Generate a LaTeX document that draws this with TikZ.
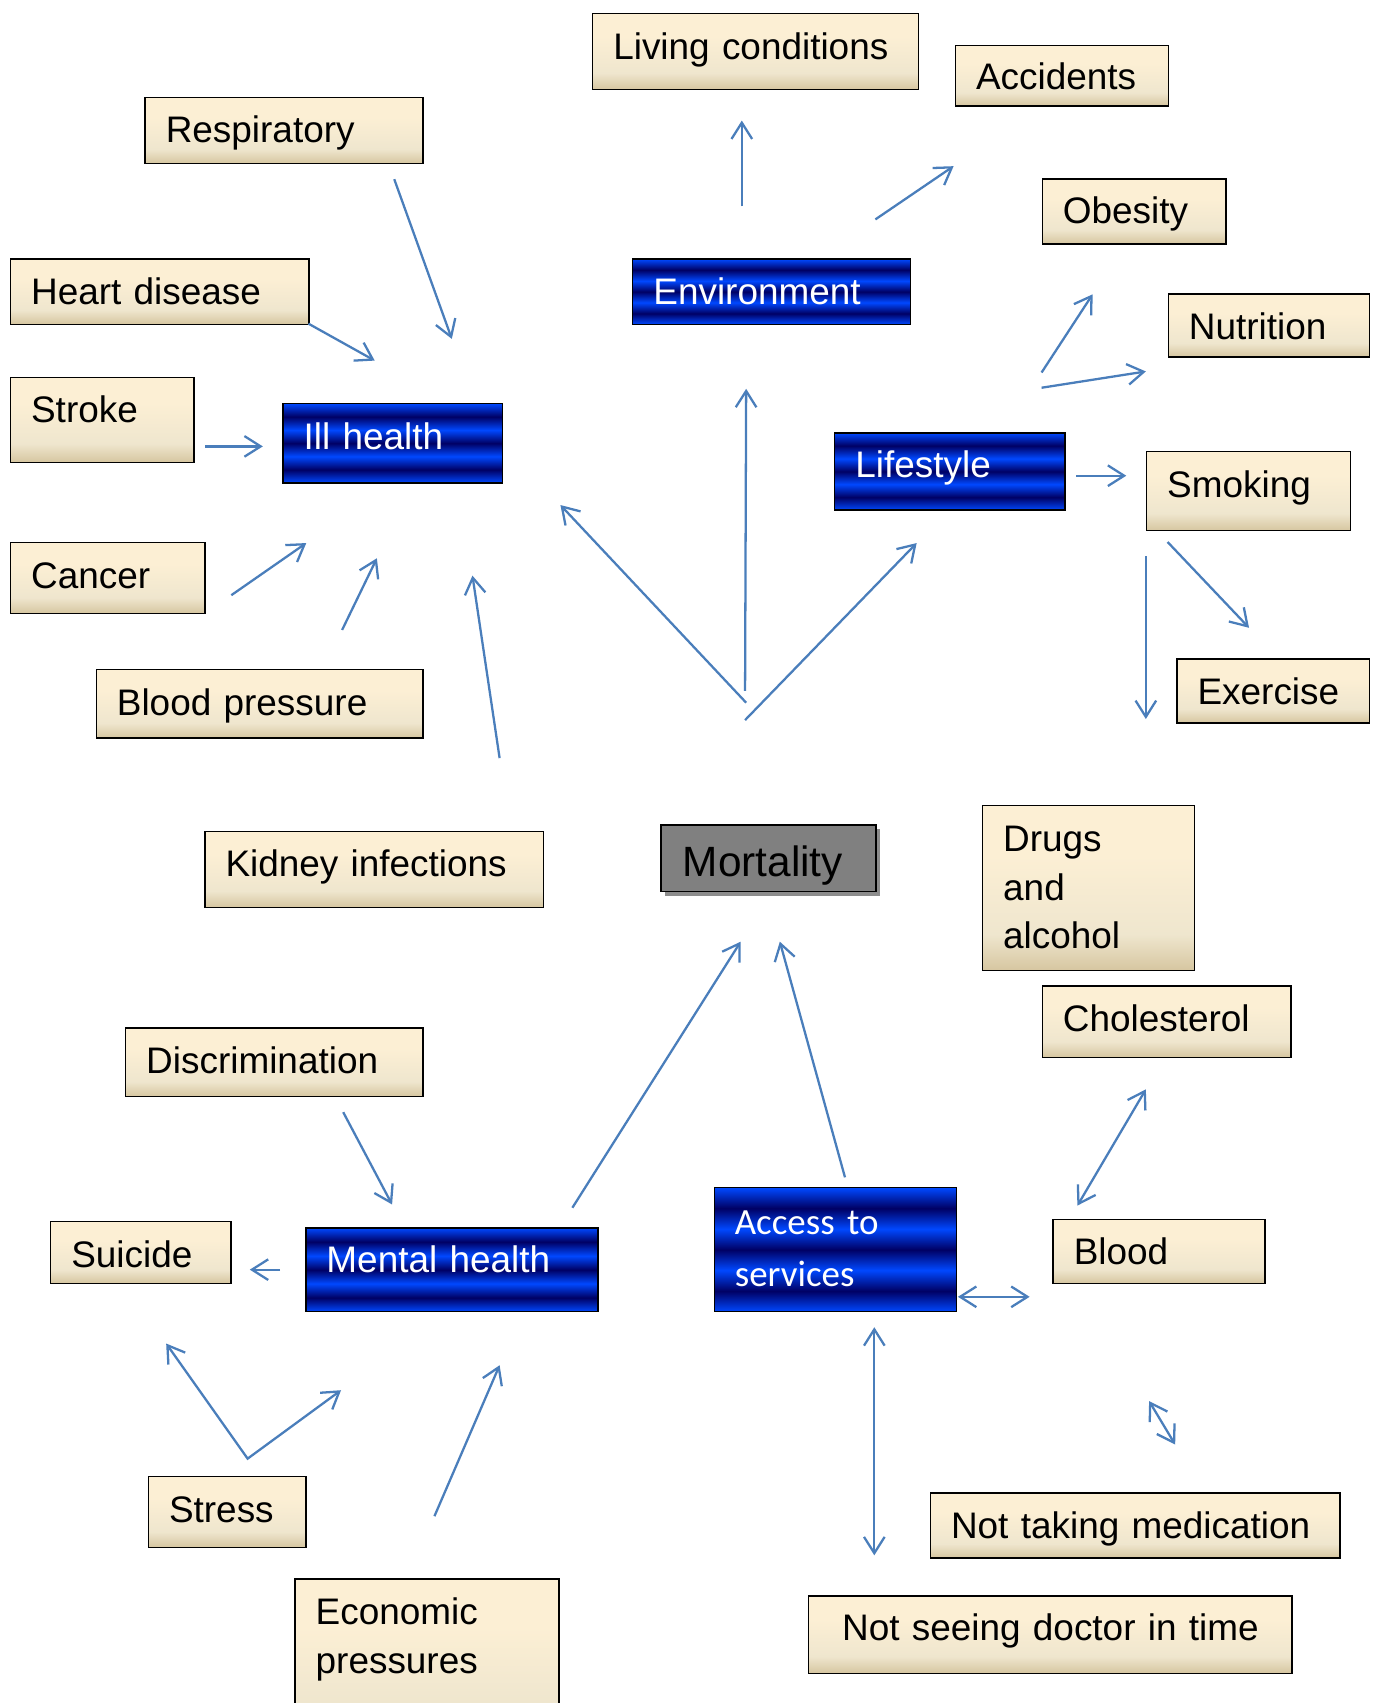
\documentclass[tikz,border=0pt]{standalone}
\usepackage{fontspec}
\setmainfont{Liberation Sans}
\newfontfamily\calibfont{Carlito}
\usepackage{xcolor}
\usepackage{tikz}
\usetikzlibrary{arrows.meta,shadows}

\definecolor{bdark}{RGB}{0,0,100}
\definecolor{blite}{RGB}{0,72,255}
\definecolor{tanA}{RGB}{252,239,212}
\definecolor{tanB}{RGB}{239,230,206}
\definecolor{tanC}{RGB}{214,198,160}
\definecolor{arrblue}{RGB}{74,126,187}

\pgfdeclareverticalshading{bluestripes}{100bp}{color(0bp)=(blite); color(25bp)=(blite);
  color(33.3bp)=(bdark); color(41.7bp)=(blite); color(50bp)=(bdark); color(58.3bp)=(blite);
  color(66.7bp)=(bdark); color(75bp)=(blite); color(100bp)=(blite)}
\pgfdeclareverticalshading{tanfill}{100bp}{color(0bp)=(tanC); color(25bp)=(tanC);
  color(36bp)=(tanB); color(60bp)=(tanA); color(100bp)=(tanA)}

\tikzset{
  tanbox/.style={draw=black, line width=1.3pt, shade, shading=tanfill, anchor=north west,
    inner xsep=19pt, inner ysep=0pt, align=left, text=black},
  bluebox/.style={draw=black, line width=1.2pt, shade, shading=bluestripes, anchor=north west,
    inner xsep=19pt, inner ysep=0pt, align=left, text=white},
  graybox/.style={draw=black, line width=1.3pt, fill=black!50, anchor=north west,
    inner xsep=20pt, inner ysep=0pt, align=left, text=black,
    drop shadow={shadow xshift=4pt, shadow yshift=-4pt, fill=black, opacity=0.45}},
  arr/.style={draw=arrblue, line width=2.1pt, -{Straight Barb[length=15pt,width=19pt]}},
  darr/.style={draw=arrblue, line width=2.1pt,
    {Straight Barb[length=15pt,width=19pt]}-{Straight Barb[length=15pt,width=19pt]}}
}

\begin{document}
\begin{tikzpicture}[x=1pt, y=-1pt, font=\fontsize{34}{45}\selectfont]
  \useasboundingbox (0,0) rectangle (1274,1568);

  \node[tanbox, text width=262pt, text height=42pt, text depth=28pt] (living) at (545,12) {Living conditions};
  \node[tanbox, text width=158pt, text height=41pt, text depth=15pt] (accidents) at (879,41) {Accidents};
  \node[tanbox, text width=218pt, text height=42pt, text depth=19pt] (respiratory) at (133,89) {Respiratory};
  \node[tanbox, text width=131pt, text height=41pt, text depth=19pt] (obesity) at (959,164) {Obesity};
  \node[tanbox, text width=237pt, text height=42pt, text depth=18pt] (heart) at (9,238) {Heart disease};
  \node[tanbox, text width=147pt, text height=42pt, text depth=16pt] (nutrition) at (1075,270) {Nutrition};
  \node[tanbox, text width=131pt, text height=41pt, text depth=37pt] (stroke) at (9,347) {Stroke};
  \node[tanbox, text width=150pt, text height=42pt, text depth=31pt] (smoking) at (1055,415) {Smoking};
  \node[tanbox, text width=141pt, text height=42pt, text depth=23pt] (cancer) at (9,499) {Cancer};
  \node[tanbox, text width=263pt, text height=42pt, text depth=21pt] (bloodpress) at (88,616) {Blood pressure};
  \node[tanbox, text width=139pt, text height=42pt, text depth=17pt] (exercise) at (1083,606) {Exercise};
  \node[tanbox, text width=274pt, text height=41pt, text depth=29pt] (kidney) at (188,765) {Kidney infections};
  \node[tanbox, text width=157pt, text height=42pt, text depth=110pt] (drugs) at (904,741) {Drugs\\and\\alcohol};
  \node[tanbox, text width=191pt, text height=42pt, text depth=24pt] (cholesterol) at (959,907) {Cholesterol};
  \node[tanbox, text width=236pt, text height=42pt, text depth=21pt] (discrim) at (115,946) {Discrimination};
  \node[tanbox, text width=128pt, text height=42pt, text depth=15pt] (suicide) at (46,1124) {Suicide};
  \node[tanbox, text width=157pt, text height=42pt, text depth=17pt] (blood) at (969,1122) {Blood};
  \node[tanbox, text width=107pt, text height=42pt, text depth=23pt] (stress) at (136,1359) {Stress};
  \node[tanbox, text width=339pt, text height=42pt, text depth=18pt] (medication) at (856,1374) {Not taking medication};
  \node[tanbox, text width=205pt, text height=42pt, text depth=105pt] (economic) at (271,1453) {Economic\\pressures};
  \node[tanbox, text width=407pt, text height=41pt, text depth=30pt, align=center] (doctor) at (744,1469) {Not seeing doctor in time};

  \node[bluebox, text width=218pt, text height=42pt, text depth=18pt] (environment) at (582,238) {Environment};
  \node[bluebox, text width=164pt, text height=42pt, text depth=31pt] (illhealth) at (260,371) {Ill health};
  \node[bluebox, text width=174pt, text height=41pt, text depth=30pt] (lifestyle) at (768,398) {Lifestyle};
  \node[bluebox, text width=231pt, text height=41pt, text depth=36pt] (mental) at (281,1130) {Mental health};
  \node[bluebox, text width=185pt, text height=43pt, text depth=71pt,
    font=\calibfont\fontsize{34}{48}\selectfont] (access) at (657,1093) {Access to\\services};

  \node[graybox, text width=158pt, text height=47pt, text depth=14pt,
    font=\fontsize{39}{45}\selectfont] (mortality) at (608,759) {Mortality};

  \foreach \xa/\ya/\xb/\yb in {363/165/416/312, 284/298/345/332, 189/411/242/411,
      213/548/282/500, 315/580/347/514, 460/698/435/530,
      687/647/516/465, 686/636/687/358, 686/663/844/500,
      683/190/683/111, 806/202/878/153,
      959/343/1006/271, 959/357/1055/342, 991/438/1037/438,
      1075/499/1150/578, 1055/512/1055/662,
      527/1112/682/867, 778/1084/718/867, 316/1024/361/1109,
      258/1169/230/1169, 400/1396/460/1257}
    \draw[arr] (\xa,\ya) -- (\xb,\yb);

  \foreach \xa/\ya/\xb/\yb in {1055/1003/992/1110, 882/1194/948/1194,
      805/1222/805/1432, 1058/1290/1082/1330}
    \draw[darr] (\xa,\ya) -- (\xb,\yb);

  \draw[darr] (153,1237) -- (228,1343) -- (314,1280);
\end{tikzpicture}
\end{document}
